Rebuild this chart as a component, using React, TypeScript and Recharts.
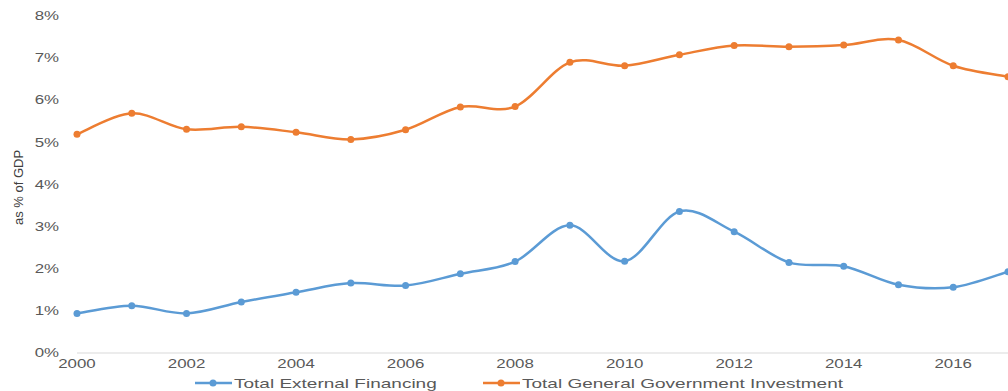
import { LineChart, Line, XAxis, YAxis, Legend } from 'recharts';

const years = [2000, 2001, 2002, 2003, 2004, 2005, 2006, 2007, 2008, 2009, 2010, 2011, 2012, 2013, 2014, 2015, 2016, 2017];
const externalFinancing = [0.94, 1.12, 0.94, 1.21, 1.44, 1.66, 1.6, 1.88, 2.17, 3.03, 2.18, 3.36, 2.88, 2.15, 2.06, 1.62, 1.56, 1.93];
const govInvestment = [5.19, 5.69, 5.31, 5.37, 5.24, 5.07, 5.3, 5.84, 5.85, 6.9, 6.82, 7.08, 7.3, 7.27, 7.31, 7.43, 6.82, 6.56];
const xTicks = [2000, 2002, 2004, 2006, 2008, 2010, 2012, 2014, 2016];
const yTicks = [0, 1, 2, 3, 4, 5, 6, 7, 8];

const BLUE = '#5B9BD5';
const ORANGE = '#ED7D31';
const TEXT = '#595959';
const FONT = '"Liberation Sans", Arial, sans-serif';
const STRETCH = 1.35;

const data = years.map((year, i) => ({
  year,
  external: externalFinancing[i],
  investment: govInvestment[i],
}));

// Excel-style smoothed line (Catmull-Rom -> bezier)
const excelSmooth = (context: any) => {
  let pts: number[][] = [];
  return {
    areaStart() {},
    areaEnd() {},
    lineStart() {
      pts = [];
    },
    point(x: number, y: number) {
      pts.push([+x, +y]);
    },
    lineEnd() {
      const n = pts.length;
      if (!n) return;
      context.moveTo(pts[0][0], pts[0][1]);
      for (let i = 0; i < n - 1; i++) {
        const p0 = pts[Math.max(i - 1, 0)];
        const p1 = pts[i];
        const p2 = pts[i + 1];
        const p3 = pts[Math.min(i + 2, n - 1)];
        context.bezierCurveTo(
          p1[0] + (p2[0] - p0[0]) / 6,
          p1[1] + (p2[1] - p0[1]) / 6,
          p2[0] - (p3[0] - p1[0]) / 6,
          p2[1] - (p3[1] - p1[1]) / 6,
          p2[0],
          p2[1]
        );
      }
    },
  };
};

const XTick = ({ x, y, payload }: any) => (
  <text
    transform={`translate(${x},${y}) scale(${STRETCH},1)`}
    textAnchor="middle"
    dominantBaseline="central"
    fontSize={12.5}
    fontFamily={FONT}
    fill={TEXT}
  >
    {payload.value}
  </text>
);

const YTick = ({ x, y, payload }: any) => (
  <text
    transform={`translate(${x},${y}) scale(${STRETCH},1)`}
    textAnchor="end"
    dominantBaseline="central"
    fontSize={12.5}
    fontFamily={FONT}
    fill={TEXT}
  >
    {payload.value}%
  </text>
);

const YLabel = ({ viewBox }: any) => (
  <text
    transform={`translate(${viewBox.x + 18},${viewBox.y + viewBox.height / 2 + 3}) rotate(-90)`}
    textAnchor="middle"
    dominantBaseline="central"
    fontSize={13}
    fontFamily='"Liberation Sans Narrow", "Liberation Sans", Arial, sans-serif'
    fill="#404040"
  >
    as % of GDP
  </text>
);

const legendStarts = [195, 483];

const LegendContent = ({ payload }: any) => (
  <svg width={1008} height={20}>
    {(payload || []).map((entry: any, i: number) => {
      const x0 = legendStarts[i];
      return (
        <g key={entry.value}>
          <line x1={x0} y1={10} x2={x0 + 37} y2={10} stroke={entry.color} strokeWidth={2.5} />
          <circle cx={x0 + 18} cy={10} r={3.5} fill={entry.color} />
          <text
            transform={`translate(${x0 + 39},10.5) scale(1.52,1)`}
            dominantBaseline="central"
            fontSize={12.5}
            fontFamily={FONT}
            fill={TEXT}
          >
            {entry.value}
          </text>
        </g>
      );
    })}
  </svg>
);

export default function App() {
  return (
    <div style={{ position: 'absolute', left: 0, top: 0, background: '#fff' }}>
      <LineChart width={1008} height={391} data={data} margin={{ top: 16, right: 0, bottom: 0, left: 0 }}>
        <XAxis
          dataKey="year"
          type="number"
          domain={[2000, 2017]}
          ticks={xTicks}
          height={38}
          tickLine={false}
          tickMargin={5}
          axisLine={{ stroke: '#d9d9d9', strokeWidth: 1 }}
          tick={<XTick />}
          interval={0}
        />
        <YAxis
          domain={[0, 8]}
          ticks={yTicks}
          width={77}
          axisLine={false}
          tickLine={false}
          tickMargin={12}
          tick={<YTick />}
          interval={0}
          label={<YLabel />}
        />
        <Legend
          layout="horizontal"
          verticalAlign="middle"
          align="center"
          content={<LegendContent />}
          wrapperStyle={{ top: 373, left: 0, width: 1008, height: 20 }}
        />
        <Line
          dataKey="external"
          name="Total External Financing"
          type={excelSmooth as any}
          stroke={BLUE}
          strokeWidth={2.5}
          dot={{ r: 3.5, fill: BLUE, stroke: BLUE, strokeWidth: 0 }}
          activeDot={false}
          isAnimationActive={false}
        />
        <Line
          dataKey="investment"
          name="Total General Government Investment"
          type={excelSmooth as any}
          stroke={ORANGE}
          strokeWidth={2.5}
          dot={{ r: 3.5, fill: ORANGE, stroke: ORANGE, strokeWidth: 0 }}
          activeDot={false}
          isAnimationActive={false}
        />
      </LineChart>
    </div>
  );
}
